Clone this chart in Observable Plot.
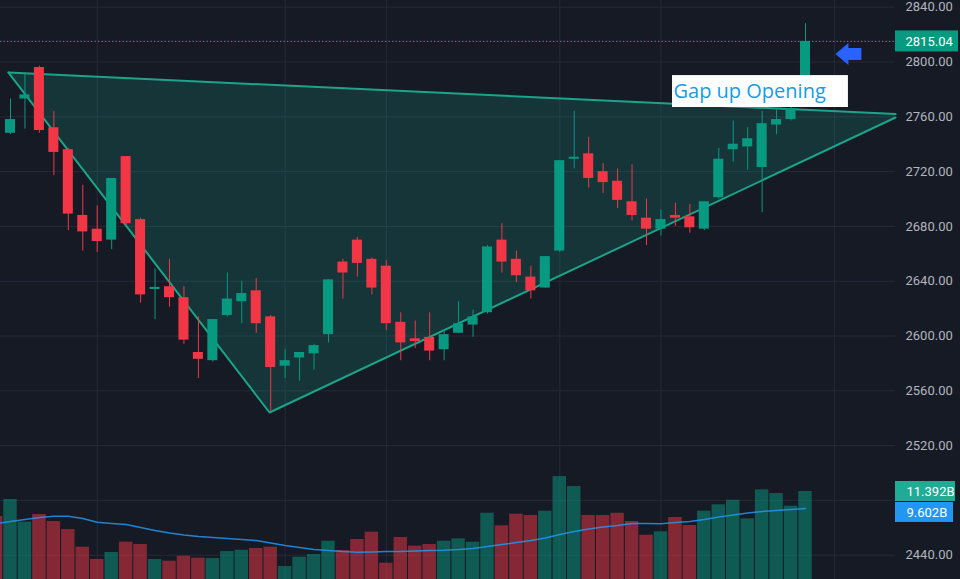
<!DOCTYPE html>
<html><head><meta charset="utf-8">
<script src="https://cdn.jsdelivr.net/npm/d3@7"></script>
<script src="https://cdn.jsdelivr.net/npm/@observablehq/plot@0.6"></script>
<style>
html,body{margin:0;padding:0;background:#161a25;}
#chart{position:relative;width:960px;height:579px;overflow:hidden;background:#161a25;}
#chart svg{position:absolute;left:0;top:0;}
</style></head><body><div id="chart"></div>
<script>
// ---- data ----
const opens  = [2748,2773,2796,2752,2736,2688,2678,2670,2731,2685,2634,2636,2628,2588,2582,2615,2625,2633,2614,2578,2584,2587,2601,2654,2670,2656,2651,2610,2598,2599,2590,2602,2608,2617,2670,2656,2643,2635,2662,2729,2733,2720,2713,2698,2686,2678,2688,2687,2678,2701,2736,2738,2723,2754,2758,2785];
const highs  = [2773,2792,2797,2764,2737,2710,2695,2715,2731,2686,2649,2656,2636,2614,2612,2646,2640,2642,2615,2590,2588,2594,2641,2656,2672,2657,2655,2617,2611,2617,2604,2625,2619,2666,2682,2662,2651,2658,2728,2764,2745,2726,2722,2725,2700,2692,2697,2696,2698,2737,2757,2752,2764,2766,2775,2828];
const lows   = [2747,2751,2748,2717,2677,2662,2661,2663,2680,2624,2612,2621,2594,2569,2581,2614,2609,2602,2545,2569,2567,2575,2595,2627,2643,2630,2604,2582,2591,2582,2582,2602,2599,2616,2646,2639,2627,2635,2661,2722,2708,2704,2693,2684,2666,2673,2680,2675,2677,2700,2727,2721,2690,2747,2757,2783];
const closes = [2758,2776,2750,2734,2689,2676,2669,2715,2682,2630,2635.5,2628,2597,2583,2612,2627,2631,2609,2577,2582,2588,2593,2641,2646,2653,2635,2609,2595,2596,2589,2601,2609,2614,2665,2654,2644,2633,2658,2728,2730.5,2715,2712,2699,2688,2678,2685,2686,2679,2698,2729,2740,2744,2755,2758,2766,2815.04];
const volumes = [10.55,8.16,8.97,8.23,7.38,5.52,4.22,4.96,6.05,5.80,4.22,4.04,4.57,4.36,4.32,5.06,5.20,5.38,5.52,3.48,4.46,4.75,6.15,5.17,6.33,7.10,3.83,6.54,5.63,5.80,6.15,6.40,6.05,9.10,7.77,9.00,8.86,9.31,12.97,11.92,8.86,8.86,9.10,8.23,6.78,7.14,8.65,7.81,9.31,9.99,10.47,8.51,11.57,11.18,9.84,11.392];
const volumeMA = [8.23,8.44,8.65,8.79,8.79,8.54,8.15,8.02,7.91,7.59,7.28,7.01,6.80,6.65,6.54,6.43,6.33,6.22,5.96,5.70,5.49,5.27,5.17,5.06,4.99,5.01,5.06,5.06,5.12,5.17,5.20,5.27,5.38,5.59,5.80,6.01,6.22,6.49,6.86,7.17,7.44,7.65,7.81,8.02,8.02,7.99,8.12,8.23,8.44,8.70,8.91,9.12,9.28,9.39,9.49,9.602];
// the session just off the left edge (only its volume bar and MA show)
const prevVolume = 8.76, prevVolumeMA = 8.02, prevUp = false;
const priceGrid = [2440,2480,2520,2560,2600,2640,2680,2720,2760,2800,2840];
const priceLabels = [2440,2520,2560,2600,2640,2680,2720,2760,2800,2840];
const timeGrid = [6,19,26,38,45,57];
const annotationText = "Gap up Opening";

// ---- layout (index / price units) ----
const XMIN = -0.6918, XMAX = 61.227;
const PMIN = 2422.3, PMAX = 2844.9;
const VMIN = 2.11, VMAX = 63.19;
const triApex = {x: -0.14, y: 2792.3};
const triBottom = {x: 17.92, y: 2544.2};
const triRightUpper = {x: 61.23, y: 2762.0};
const triRightLower = {x: 61.23, y: 2759.5};
const annotBox = {x1: 45.80, x2: 57.97, top: 2790.1, bottom: 2766.8};
const arrowPos = {x: 57.97, y: 2805.8};

const UP = "#089981", DOWN = "#f23645", GRID = "#252a36", TRI = "#1aa58a", AXIS = "#b2b5be";
const FONT = "Roboto, 'Liberation Sans', sans-serif";

const candles = opens.map((o, i) => ({i, open: o, high: highs[i], low: lows[i], close: closes[i], volume: volumes[i], ma: volumeMA[i]}));
const col = d => d.close >= d.open ? UP : DOWN;
const lastClose = closes[closes.length - 1];
const volBars = [{i: -1, volume: prevVolume, up: prevUp}, ...candles.map(d => ({i: d.i, volume: d.volume, up: d.close >= d.open}))];
const maLine = [{i: -1, ma: prevVolumeMA}, ...candles.map(d => ({i: d.i, ma: d.ma}))];

const upperAtBottom = triApex.y + (triRightUpper.y - triApex.y) * (triBottom.x - triApex.x) / (triRightUpper.x - triApex.x);
const triFill = [
  {x: triApex.x, lo: triApex.y, hi: triApex.y},
  {x: triBottom.x, lo: triBottom.y, hi: upperAtBottom},
  {x: triRightLower.x, lo: triRightLower.y, hi: triRightUpper.y}
];

const arrowSymbol = {draw(ctx) {
  ctx.moveTo(-13, 0); ctx.lineTo(0, -11); ctx.lineTo(0, -6); ctx.lineTo(13, -6);
  ctx.lineTo(13, 6); ctx.lineTo(0, 6); ctx.lineTo(0, 11); ctx.closePath();
}};

const pricePlot = Plot.plot({
  width: 960, height: 579,
  marginLeft: 0, marginRight: 65, marginTop: 0, marginBottom: 0,
  style: {background: "transparent", fontFamily: FONT},
  x: {domain: [XMIN, XMAX], axis: null},
  y: {domain: [PMIN, PMAX], axis: null},
  marks: [
    Plot.ruleY(priceGrid, {stroke: GRID}),
    Plot.ruleX(timeGrid, {stroke: GRID}),
    Plot.areaY(triFill, {x: "x", y1: "lo", y2: "hi", fill: TRI, fillOpacity: 0.2}),
    Plot.line([triApex, triBottom, triRightLower], {x: "x", y: "y", stroke: TRI, strokeWidth: 2}),
    Plot.line([triApex, triRightUpper], {x: "x", y: "y", stroke: TRI, strokeWidth: 2}),
    Plot.ruleY([lastClose], {stroke: UP, strokeWidth: 1.3, strokeDasharray: "1.3,2.2"}),
    Plot.ruleX(candles, {x: "i", y1: "low", y2: "high", stroke: col}),
    Plot.rect(candles, {x1: d => d.i - 0.5, x2: d => d.i + 0.5, y1: "open", y2: "close", insetLeft: 2.2, insetRight: 2.2, fill: col}),
    Plot.rect([annotBox], {x1: "x1", x2: "x2", y1: "bottom", y2: "top", fill: "white"}),
    Plot.text([annotBox], {x: "x1", y: d => (d.top + d.bottom) / 2, text: () => annotationText, textAnchor: "start", dx: 1, fill: "#179be8", fontSize: 20, fontFamily: "'Open Sans', sans-serif"}),
    Plot.dot([arrowPos], {x: "x", y: "y", symbol: arrowSymbol, fill: "#2962ff", stroke: "none"}),
    Plot.text(priceLabels, {x: XMAX, y: d => d, text: d => d.toFixed(2), textAnchor: "start", dx: 10, fill: AXIS, fontSize: 13}),
    Plot.rect([lastClose], {x1: XMAX, x2: XMAX, y1: d => d, y2: d => d, insetRight: -63, insetTop: -10.5, insetBottom: -10.5, fill: UP}),
    Plot.text([lastClose], {x: XMAX, y: d => d, text: d => d.toFixed(2), textAnchor: "start", dx: 10, fill: "white", fontSize: 13})
  ]
});

const last = candles[candles.length - 1];
const volumePlot = Plot.plot({
  width: 960, height: 579,
  marginLeft: 0, marginRight: 65, marginTop: 0, marginBottom: 0,
  style: {background: "transparent", fontFamily: FONT, pointerEvents: "none"},
  x: {domain: [XMIN, XMAX], axis: null},
  y: {domain: [VMIN, VMAX], axis: null},
  marks: [
    Plot.rect(volBars, {x1: d => d.i - 0.5, x2: d => d.i + 0.5, y1: 0, y2: "volume", insetLeft: 0.5, insetRight: 0.5, fill: d => d.up ? UP : DOWN, fillOpacity: 0.5, clip: true}),
    Plot.line(maLine, {x: "i", y: "ma", stroke: "#2196f3", strokeWidth: 1.5, strokeOpacity: 0.85, clip: true}),
    Plot.rect([last.volume], {x1: XMAX, x2: XMAX, y1: d => d, y2: d => d, insetRight: -60, insetTop: -10, insetBottom: -10, fill: "#22ab94"}),
    Plot.text([last.volume], {x: XMAX, y: d => d, text: d => d.toFixed(3) + "B", textAnchor: "start", dx: 11, fill: "white", fontSize: 13}),
    Plot.rect([last.ma], {x1: XMAX, x2: XMAX, y1: d => d, y2: d => d, insetRight: -58, insetTop: -6, insetBottom: -14, fill: "#2196f3"}),
    Plot.text([last.ma], {x: XMAX, y: d => d, text: d => d.toFixed(3) + "B", textAnchor: "start", dx: 11, dy: 4, fill: "white", fontSize: 13})
  ]
});

const chart = document.getElementById("chart");
chart.appendChild(pricePlot);
chart.appendChild(volumePlot);
</script>
</body></html>
